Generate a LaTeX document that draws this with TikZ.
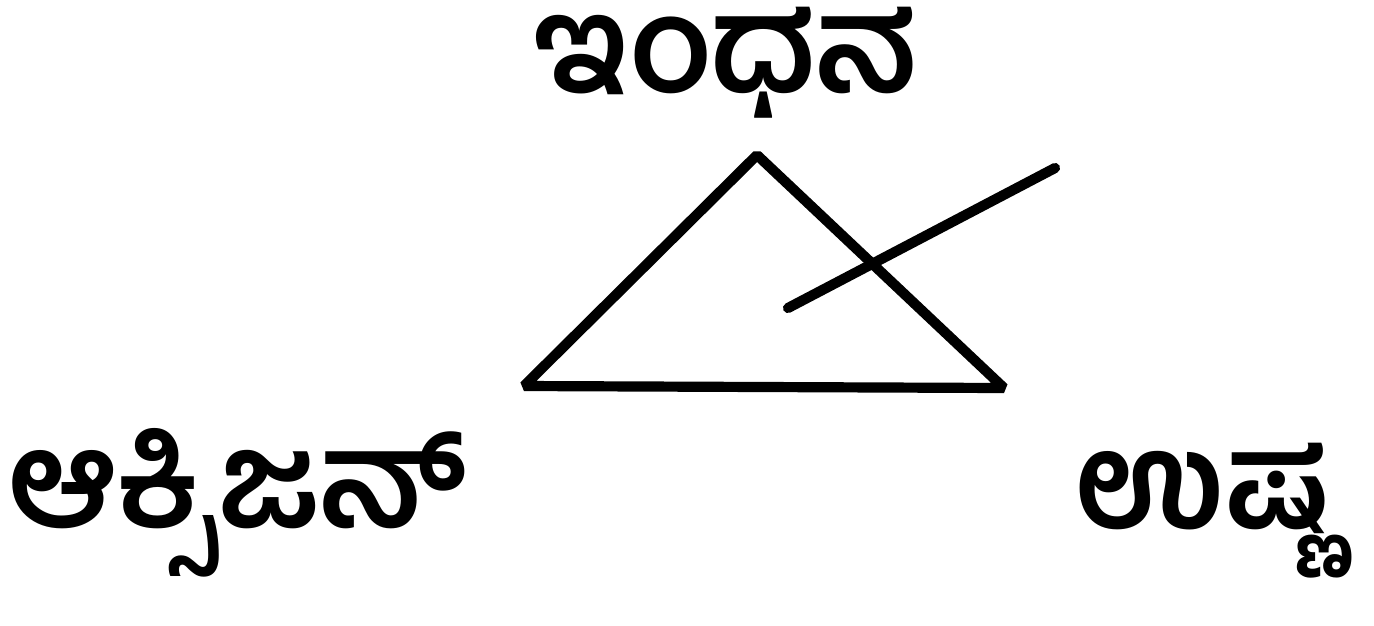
\documentclass[tikz,border=0pt]{standalone}
\usepackage{fontspec}
\newfontfamily\kanfont[Script=Kannada]{Hind Mysuru}
\begin{document}
\begin{tikzpicture}[
    x=1cm, y=1cm,
    every node/.style={font=\kanfont\bfseries\fontsize{38}{42}\selectfont, inner sep=0pt},
    side/.style={line width=2.9pt, line join=bevel, line cap=round}]
    \useasboundingbox (0,0) rectangle (13.74,6.25);
    % Vértices del triángulo.
    \coordinate (top) at (7.57,4.70);
    \coordinate (left) at (5.24,2.39);
    \coordinate (right) at (10.04,2.37);
    \draw[side] (top) -- (right) -- (left) -- cycle;

    % Trazo que corta el lado derecho.
    \coordinate (cutA) at (7.88,3.17);
    \coordinate (cutB) at (10.55,4.57);
    \draw[side] (cutA) -- (cutB);

    % Etiquetas.
    \node (fuel) at (7.25,5.62) {ಇಂಧನ};
    \node (oxygen) at (2.38,1.22) {ಆಕ್ಸಿಜನ್};
    \node (heat) at (12.02,1.14) {ಉಷ್ಣ};
\end{tikzpicture}
\end{document}
